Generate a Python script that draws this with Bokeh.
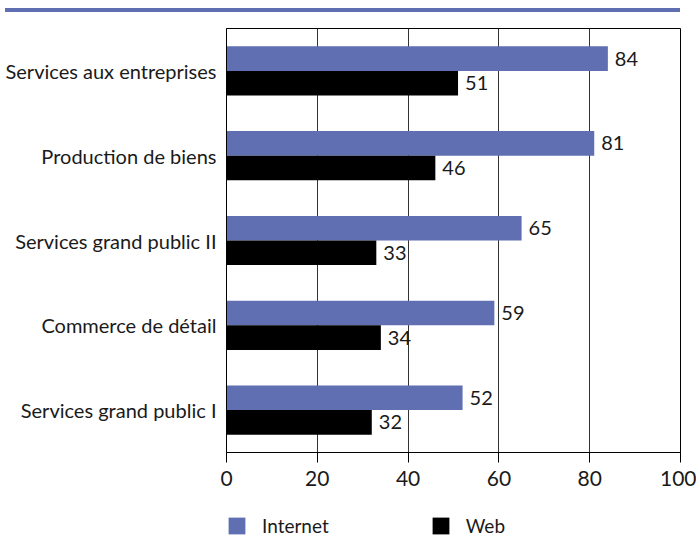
from bokeh.plotting import figure
from bokeh.layouts import column
from bokeh.models import (FactorRange, Legend, LegendItem, ColumnDataSource,
                          Range1d, FixedTicker, Div)
from bokeh.transform import dodge
from bokeh.embed import file_html
from bokeh.resources import INLINE
from bokeh.core.properties import value

categories = ["Services aux entreprises", "Production de biens",
              "Services grand public II", "Commerce de détail",
              "Services grand public I"]
internet = [84, 81, 65, 59, 52]
web = [51, 46, 33, 34, 32]
x_ticks = [0, 20, 40, 60, 80, 100]
series_names = ["Internet", "Web"]

FONT = "Lato"
BLUE = "#5f6fb2"
TXT = "#1a1a1a"

src = ColumnDataSource(dict(
    cat=categories, internet=internet, web=web,
    internet_lbl=[str(v) for v in internet],
    web_lbl=[str(v) for v in web],
))

p = figure(width=696, height=485,
           y_range=FactorRange(factors=categories[::-1]),
           x_range=Range1d(0, 100),
           output_backend="svg", toolbar_location=None,
           min_border_left=226, min_border_right=16,
           min_border_top=16, min_border_bottom=45)

bh = 0.29
off = bh / 2
r_int = p.hbar(y=dodge("cat", off, range=p.y_range), right="internet", left=0,
               height=bh, source=src, fill_color=BLUE, line_color=None)
r_web = p.hbar(y=dodge("cat", -off, range=p.y_range), right="web", left=0,
               height=bh, source=src, fill_color="black", line_color=None)

p.text(x="internet", y=dodge("cat", off, range=p.y_range), text="internet_lbl",
       source=src, x_offset=7, text_baseline="middle", text_align="left",
       text_font=value(FONT), text_font_size="20px", text_color=TXT)
p.text(x="web", y=dodge("cat", -off, range=p.y_range), text="web_lbl",
       source=src, x_offset=7, text_baseline="middle", text_align="left",
       text_font=value(FONT), text_font_size="20px", text_color=TXT)

# axes
p.xaxis.ticker = FixedTicker(ticks=x_ticks)
p.xaxis.major_tick_out = 10
p.xaxis.major_tick_in = 0
p.xaxis.minor_tick_line_color = None
p.xaxis.axis_line_color = "black"
p.xaxis.major_tick_line_color = "black"
p.xaxis.major_label_text_font = FONT
p.xaxis.major_label_text_font_size = "21px"
p.xaxis.major_label_text_color = TXT
p.xaxis.major_label_standoff = 8

p.yaxis.major_tick_out = 0
p.yaxis.major_tick_in = 0
p.yaxis.minor_tick_line_color = None
p.yaxis.axis_line_color = "black"
p.yaxis.major_label_text_font = FONT
p.yaxis.major_label_text_font_size = "20px"
p.yaxis.major_label_text_color = TXT
p.yaxis.major_label_standoff = 10
p.y_range.range_padding = 0
p.y_range.group_padding = 0

p.xgrid.ticker = FixedTicker(ticks=x_ticks)
p.xgrid.grid_line_color = "#333333"
p.xgrid.grid_line_width = 1
p.ygrid.grid_line_color = None

p.outline_line_color = "black"
p.outline_line_width = 1
p.background_fill_color = "white"
p.border_fill_color = "white"

# legend strip (its own small figure, frame aligned with the chart's frame)
lf = figure(width=696, height=28, x_range=Range1d(0, 1), y_range=Range1d(0, 1),
            x_axis_type=None, y_axis_type=None,
            output_backend="svg", toolbar_location=None,
            min_border=0, margin=(12, 0, 0, 0))
lf.outline_line_color = None
lf.xgrid.visible = False
lf.ygrid.visible = False
# swatch renderers: one point each, placed outside the visible range
sw_int = lf.rect(x=[-10], y=[-10], width=1, height=1,
                 fill_color=BLUE, line_color=None)
sw_web = lf.rect(x=[-10], y=[-10], width=1, height=1,
                 fill_color="black", line_color=None)
legend = Legend(items=[LegendItem(label=series_names[0], renderers=[sw_int]),
                       LegendItem(label=series_names[1], renderers=[sw_web])],
                orientation="horizontal", location="bottom_left",
                glyph_width=21, glyph_height=21, label_standoff=15,
                spacing=101, padding=0, margin=0,
                border_line_color=None, background_fill_alpha=0,
                label_text_font=FONT, label_text_font_size="19px",
                label_text_color=TXT)
lf.add_layout(legend, "center")

rule = Div(text="", width=675, height=4, margin=(8, 0, 0, 5),
           styles={"background-color": BLUE})

layout = column(rule, p, lf, spacing=0)
open("out.html", "w").write(file_html(layout, INLINE))
